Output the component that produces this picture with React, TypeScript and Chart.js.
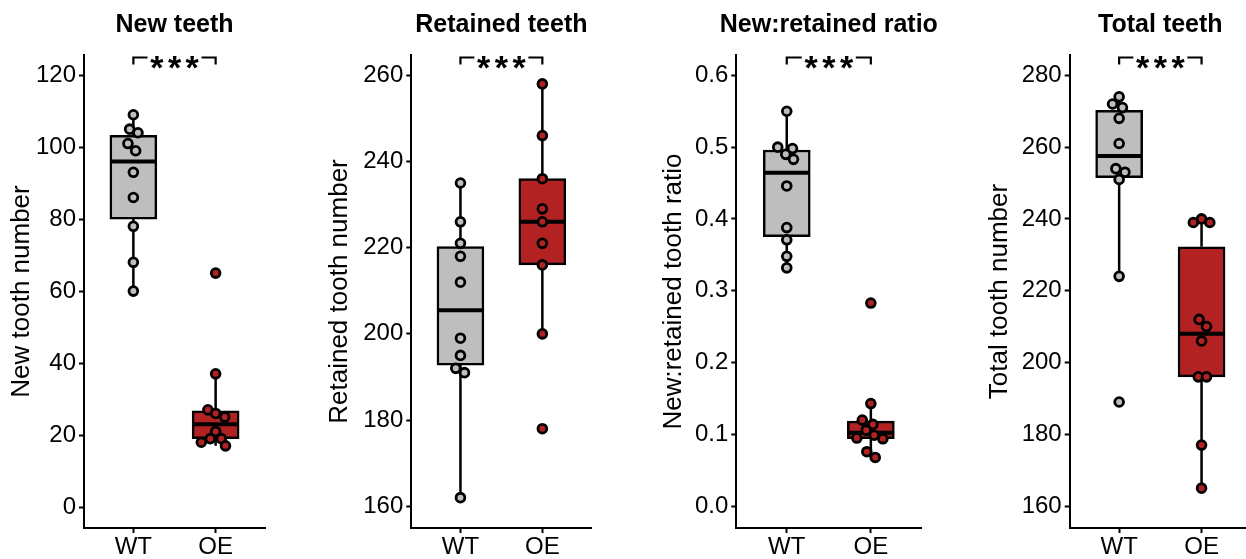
import React, { useEffect, useRef } from "react";
import { Chart, registerables } from "chart.js";

Chart.register(...registerables);

// ---------- data ----------
const GROUPS = ["WT", "OE"];

const NEW_WT = [109, 105, 104, 101, 99, 93, 86, 78, 68, 60];
const NEW_WT_JITTER = [0, -0.045, 0.056, -0.066, 0.028, 0, 0, 0, 0, 0];
const NEW_OE = [65, 37, 27, 26, 25, 21, 19, 19, 18, 17];
const NEW_OE_JITTER = [0, 0, -0.094, 0, 0.11, 0, -0.065, 0.069, -0.174, 0.12];
const NEW_TICKS = [0, 20, 40, 60, 80, 100, 120];

const RET_WT = [235, 226, 221, 218, 212, 199, 195, 192, 191, 162];
const RET_WT_JITTER = [0, 0, 0, 0, 0, 0, 0, -0.057, 0.049, 0];
const RET_OE = [258, 246, 236, 229, 226, 221, 216, 200, 178];
const RET_OE_JITTER = [0, 0, 0, 0, 0, 0, 0, 0, 0];
const RET_TICKS = [160, 180, 200, 220, 240, 260];

const RATIO_WT = [0.55, 0.5, 0.498, 0.49, 0.483, 0.446, 0.388, 0.371, 0.348, 0.332];
const RATIO_WT_JITTER = [0, -0.107, 0.068, -0.012, 0.08, 0, 0, 0, 0, 0];
const RATIO_OE = [0.283, 0.143, 0.12, 0.114, 0.106, 0.099, 0.095, 0.094, 0.076, 0.068];
const RATIO_OE_JITTER = [0, 0, -0.102, 0.024, -0.055, 0.04, -0.167, 0.143, -0.048, 0.052];
const RATIO_TICKS = [0, 0.1, 0.2, 0.3, 0.4, 0.5, 0.6];

const TOT_WT = [274, 272, 271, 268, 261, 254, 253, 251, 224, 189];
const TOT_WT_JITTER = [0, -0.08, 0.04, 0, 0, -0.04, 0.07, 0, 0, 0];
const TOT_OE = [240, 239, 239, 212, 210, 206, 196, 196, 177, 165];
const TOT_OE_JITTER = [0, -0.1, 0.1, -0.03, 0.06, 0, -0.04, 0.06, 0, 0];
const TOT_TICKS = [160, 180, 200, 220, 240, 260, 280];

const SIG_LABEL = "***";

// ---------- style / layout ----------
const FONT = "'Liberation Sans', Arial, Helvetica, sans-serif";
const GREY = "#BEBEBE";
const RED = "#B22222";
const H = 559;

const PANELS = [
  {
    title: "New teeth", yTitle: "New tooth number",
    wt: NEW_WT, wtJ: NEW_WT_JITTER, oe: NEW_OE, oeJ: NEW_OE_JITTER,
    ticks: NEW_TICKS, dec: 0, yMin: -5.83, yMax: 125.6,
    left: 0, width: 300, axisX: 84, axisRight: 265, yTitleX: 22,
  },
  {
    title: "Retained teeth", yTitle: "Retained tooth number",
    wt: RET_WT, wtJ: RET_WT_JITTER, oe: RET_OE, oeJ: RET_OE_JITTER,
    ticks: RET_TICKS, dec: 0, yMin: 154.96, yMax: 264.7,
    left: 300, width: 310, axisX: 411.3, axisRight: 591.5, yTitleX: 339.8,
  },
  {
    title: "New:retained ratio", yTitle: "New:retained tooth ratio",
    wt: RATIO_WT, wtJ: RATIO_WT_JITTER, oe: RATIO_OE, oeJ: RATIO_OE_JITTER,
    ticks: RATIO_TICKS, dec: 1, yMin: -0.0302, yMax: 0.6283,
    left: 615, width: 330, axisX: 736.3, axisRight: 921.3, yTitleX: 674,
  },
  {
    title: "Total teeth", yTitle: "Total tooth number",
    wt: TOT_WT, wtJ: TOT_WT_JITTER, oe: TOT_OE, oeJ: TOT_OE_JITTER,
    ticks: TOT_TICKS, dec: 0, yMin: 153.9, yMax: 285.65,
    left: 945, width: 315, axisX: 1069.7, axisRight: 1251, yTitleX: 1000.3,
  },
];

function quantile(sorted: number[], p: number) {
  const pos = (sorted.length - 1) * p;
  const lo = Math.floor(pos);
  const hi = Math.ceil(pos);
  return sorted[lo] + (sorted[hi] - sorted[lo]) * (pos - lo);
}

function boxStats(values: number[]) {
  const s = [...values].sort((a, b) => a - b);
  const q1 = quantile(s, 0.25);
  const med = quantile(s, 0.5);
  const q3 = quantile(s, 0.75);
  const iqr = q3 - q1;
  const lo = Math.min(...s.filter((v) => v >= q1 - 1.5 * iqr));
  const hi = Math.max(...s.filter((v) => v <= q3 + 1.5 * iqr));
  return { q1, med, q3, lo, hi };
}

const BOX_W = 47;

function Panel({ p }: { p: (typeof PANELS)[number] }) {
  const ref = useRef<HTMLCanvasElement>(null);
  useEffect(() => {
    const canvas = ref.current;
    if (!canvas) return;
    const stats = [boxStats(p.wt), boxStats(p.oe)];
    const points = [
      ...p.wt.map((v, i) => ({ x: 0 + p.wtJ[i], y: v })),
      ...p.oe.map((v, i) => ({ x: 1 + p.oeJ[i], y: v })),
    ];
    const pointColors = [...p.wt.map(() => GREY), ...p.oe.map(() => RED)];

    const boxPlugin = {
      id: "boxExtras",
      afterDatasetDraw(chart: any, args: any) {
        if (args.index !== 0) return;
        const { ctx } = chart;
        const xs = chart.scales.x;
        const ys = chart.scales.y;
        ctx.save();
        ctx.strokeStyle = "#000";
        stats.forEach((st, gi) => {
          const cx = xs.getPixelForValue(gi);
          ctx.lineWidth = 2.5;
          ctx.beginPath();
          ctx.moveTo(cx, ys.getPixelForValue(st.q3));
          ctx.lineTo(cx, ys.getPixelForValue(st.hi));
          ctx.moveTo(cx, ys.getPixelForValue(st.q1));
          ctx.lineTo(cx, ys.getPixelForValue(st.lo));
          ctx.stroke();
          ctx.lineWidth = 4;
          ctx.beginPath();
          const my = ys.getPixelForValue(st.med);
          ctx.moveTo(cx - BOX_W / 2 + 1, my);
          ctx.lineTo(cx + BOX_W / 2 - 1, my);
          ctx.stroke();
        });
        ctx.restore();
      },
      afterDraw(chart: any) {
        const { ctx, chartArea } = chart;
        const xs = chart.scales.x;
        const x0 = xs.getPixelForValue(0);
        const x1 = xs.getPixelForValue(1);
        const mid = (x0 + x1) / 2;
        ctx.save();
        // panel title
        ctx.fillStyle = "#000";
        ctx.font = `bold 25px ${FONT}`;
        ctx.textAlign = "center";
        ctx.textBaseline = "alphabetic";
        ctx.fillText(p.title, (chartArea.left + chartArea.right) / 2, 31.5);
        // significance bracket
        const ly = chartArea.top + 2.5;
        const gap = 27;
        ctx.strokeStyle = "#000";
        ctx.lineWidth = 2.2;
        ctx.beginPath();
        ctx.moveTo(x0, ly + 7);
        ctx.lineTo(x0, ly);
        ctx.lineTo(mid - gap, ly);
        ctx.moveTo(mid + gap, ly);
        ctx.lineTo(x1, ly);
        ctx.lineTo(x1, ly + 7);
        ctx.stroke();
        ctx.font = `bold 34px ${FONT}`;
        const chars = SIG_LABEL.split("");
        chars.forEach((c, i) => {
          const off = (i - (chars.length - 1) / 2) * 17.7;
          ctx.fillText(c, mid + off, ly + 1.5 + 20);
        });
        ctx.restore();
      },
    };

    const tickFont = { family: FONT, size: 24 };
    const gridOpts = {
      display: true,
      drawOnChartArea: false,
      drawTicks: true,
      tickLength: 5,
      tickColor: "#000",
      tickWidth: 2,
      offset: false,
    };

    const chart = new Chart(canvas, {
      type: "scatter",
      data: {
        datasets: [
          {
            type: "bar",
            data: stats.map((st, gi) => ({ x: gi, y: [st.q1, st.q3] })) as any,
            backgroundColor: [GREY, RED],
            borderColor: "#000",
            borderWidth: 2.5,
            borderSkipped: false,
            barThickness: BOX_W,
            order: 2,
          } as any,
          {
            type: "scatter",
            data: points,
            pointBackgroundColor: pointColors,
            pointBorderColor: "#000",
            pointBorderWidth: 2.8,
            pointRadius: 4.4,
            order: 1,
          } as any,
        ],
      },
      options: {
        animation: false,
        responsive: false,
        events: [],
        layout: {
          padding: { top: 55, left: 0, bottom: 0, right: p.left + p.width - p.axisRight },
        },
        plugins: {
          legend: { display: false },
          tooltip: { enabled: false },
          title: { display: false },
        },
        scales: {
          x: {
            type: "linear",
            min: -0.6,
            max: 1.6,
            offset: false,
            afterBuildTicks: (s: any) => {
              s.ticks = GROUPS.map((_, i) => ({ value: i }));
            },
            afterFit: (s: any) => {
              s.height = H - 528;
            },
            ticks: {
              font: tickFont,
              color: "#000",
              padding: 0,
              autoSkip: false,
              maxRotation: 0,
              callback: (v: any) => GROUPS[Math.round(Number(v))],
            },
            grid: gridOpts,
            border: { display: true, color: "#000", width: 2 },
          },
          y: {
            type: "linear",
            min: p.yMin,
            max: p.yMax,
            afterBuildTicks: (s: any) => {
              s.ticks = p.ticks.map((v) => ({ value: v }));
            },
            afterFit: (s: any) => {
              s.width = p.axisX - p.left;
            },
            ticks: {
              font: tickFont,
              color: "#000",
              padding: 3,
              autoSkip: false,
              callback: (v: any) => Number(v).toFixed(p.dec),
            },
            grid: gridOpts,
            border: { display: true, color: "#000", width: 2 },
            title: {
              display: true,
              text: p.yTitle,
              color: "#000",
              font: { family: FONT, size: 26 },
              padding: { top: p.yTitleX - p.left - 15.6, bottom: 0 },
            },
          },
        },
      },
      plugins: [boxPlugin],
    } as any);
    return () => chart.destroy();
  }, [p]);

  return (
    <canvas
      ref={ref}
      width={p.width}
      height={H}
      style={{ position: "absolute", left: p.left, top: 0, width: p.width, height: H }}
    />
  );
}

export default function App() {
  return (
    <div
      style={{
        position: "absolute",
        left: 0,
        top: 0,
        width: 1246,
        height: H,
        overflow: "hidden",
        background: "#fff",
      }}
    >
      {PANELS.map((p) => (
        <Panel key={p.title} p={p} />
      ))}
    </div>
  );
}
